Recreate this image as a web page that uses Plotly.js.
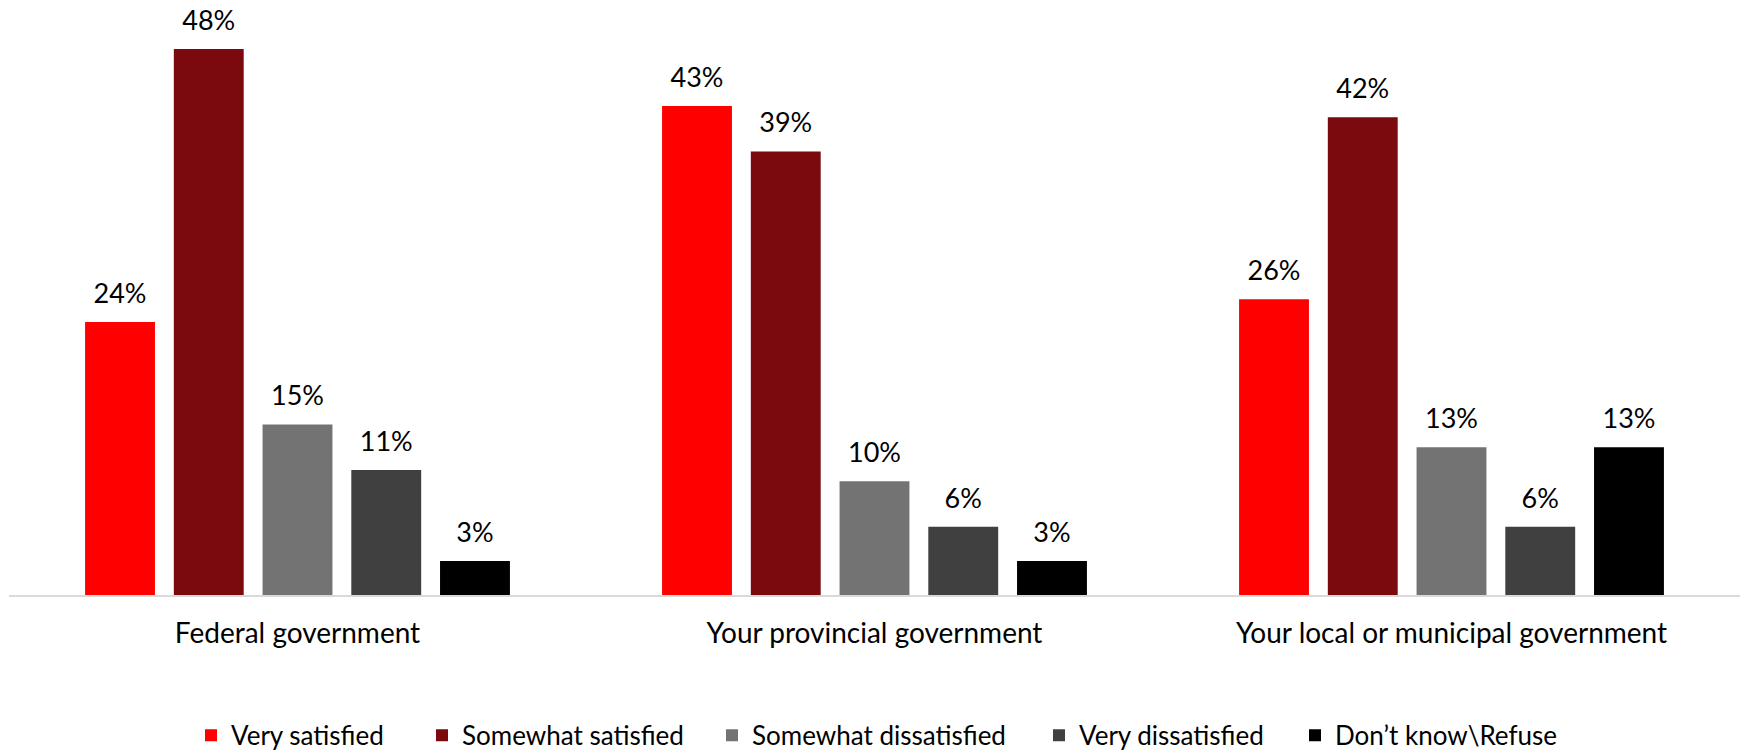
<!DOCTYPE html>
<html>
<head>
<meta charset="utf-8">
<script src="https://cdn.plot.ly/plotly-3.0.1.min.js"></script>
<style>html,body{margin:0;padding:0;background:#fff;}#chart{width:1740px;height:751px;}</style>
</head>
<body>
<div id="chart"></div>
<script>
const categories = ['Federal government', 'Your provincial government', 'Your local or municipal government'];
const seriesNames = ['Very satisfied', 'Somewhat satisfied', 'Somewhat dissatisfied', 'Very dissatisfied', 'Don\u2019t know\\Refuse'];
const verySatisfied = [24, 43, 26];
const somewhatSatisfied = [48, 39, 42];
const somewhatDissatisfied = [15, 10, 13];
const veryDissatisfied = [11, 6, 6];
const dontKnow = [3, 3, 13];
const colors = ['#FF0000', '#7B0A0F', '#737373', '#404040', '#000000'];

const allSeries = [verySatisfied, somewhatSatisfied, somewhatDissatisfied, veryDissatisfied, dontKnow];
const FONT = 'Lato, "Open Sans", sans-serif';
const legendIds = ['legend', 'legend2', 'legend3', 'legend4', 'legend5'];
const legendX = [191, 422, 712, 1039, 1295];

const traces = [];
allSeries.forEach((vals, i) => {
  traces.push({
    type: 'bar', name: seriesNames[i], x: categories, y: vals, legend: legendIds[i],
    marker: {color: colors[i]}, hoverinfo: 'skip'
  });
});
allSeries.forEach((vals, i) => {
  traces.push({
    type: 'scatter', mode: 'markers+text', orientation: 'v', showlegend: false,
    x: categories, y: vals, texttemplate: '%{y}%', textposition: 'top center',
    textfont: {family: FONT, size: 27, color: '#000'},
    marker: {size: 18, opacity: 0}, cliponaxis: false, hoverinfo: 'skip'
  });
});

const layout = {
  width: 1740, height: 751,
  margin: {l: 9, r: 0, t: 10, b: 156},
  paper_bgcolor: '#fff', plot_bgcolor: '#fff',
  barmode: 'group', bargap: 0.231, bargroupgap: 0.2125,
  scattermode: 'group', scattergap: 0.231,
  font: {family: FONT, size: 27, color: '#000'},
  xaxis: {
    type: 'category', range: [-0.5, 2.5], showline: true, linecolor: '#D9D9D9', linewidth: 2,
    ticks: '', showgrid: false, zeroline: false, ticklabelstandoff: 12,
    tickfont: {family: FONT, size: 28, color: '#000'}
  },
  yaxis: {range: [0, 51.43], visible: false, showgrid: false, zeroline: false},
  showlegend: true
};
legendIds.forEach((id, i) => {
  layout[id] = {
    orientation: 'h', xref: 'container', yref: 'container', x: legendX[i] / 1740, xanchor: 'left',
    y: 0.021, yanchor: 'middle', bgcolor: 'rgba(0,0,0,0)',
    font: {family: FONT, size: 26, color: '#000'}
  };
});

Plotly.newPlot('chart', traces, layout, {displayModeBar: false, staticPlot: true});
</script>
</body>
</html>
